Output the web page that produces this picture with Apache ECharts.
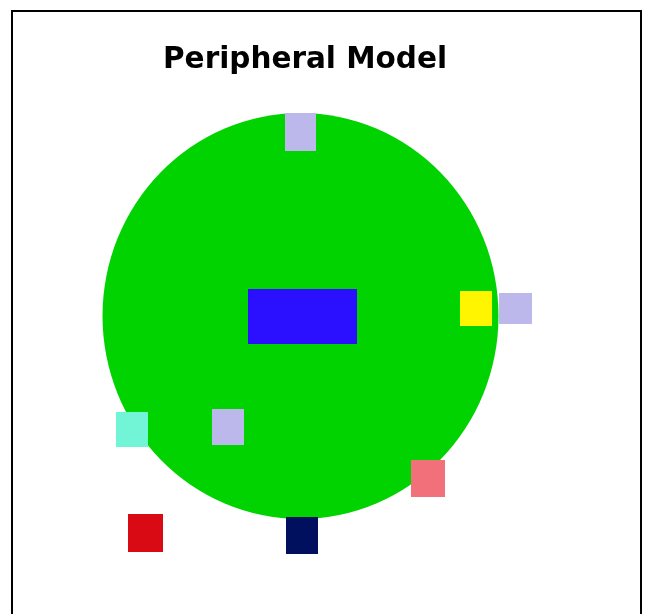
<!DOCTYPE html>
<html>
<head>
<meta charset="utf-8">
<script src="https://cdn.jsdelivr.net/npm/echarts@6/dist/echarts.min.js"></script>
<style>
html,body{margin:0;padding:0;background:#fff;}
#chart{width:650px;height:614px;}
</style>
</head>
<body>
<div id="chart"></div>
<script>
// Model units: circle centre at (0,0); x to the right, y upward.
var titleText = 'Peripheral Model';

// Central body (ellipse): cx, cy, rx, ry
var bodyValues = [[0, 0, 99, 101.5]];

// Components: names and extents [x0, x1, yTop, yBottom]
var compNames = ['top', 'core', 'rightInner', 'rightOuter', 'leftEdge', 'leftInner', 'bottomLeft', 'bottom', 'bottomRight'];
var compX0 = [-7.75, -26.25, 79.75, 99.25, -92.25, -44.25, -86.25, -7.25, 55.25];
var compX1 = [7.75, 28.25, 95.75, 115.75, -76.25, -28.25, -68.75, 8.75, 72.25];
var compY0 = [101.5, 13.5, 12.5, 11.5, -48, -46.5, -99, -100.5, -72];
var compY1 = [82.5, -14, -5, -4, -65.5, -64.5, -118, -119, -90.5];
var compColors = ['#bdb8ec', '#2b10ff', '#fff500', '#bdb8ec', '#72f5d6', '#bdb8ec', '#d90a14', '#00105e', '#f2707a'];

var compData = compNames.map(function (n, i) {
  return { name: n, value: [compX0[i], compX1[i], compY0[i], compY1[i]], itemStyle: { color: compColors[i] } };
});

var chart = echarts.init(document.getElementById('chart'));
chart.setOption({
  animation: false,
  backgroundColor: '#ffffff',
  title: {
    text: titleText,
    left: 158,
    top: 40,
    textStyle: { fontFamily: 'DejaVu Sans', fontWeight: 'bold', fontSize: 29.5, color: '#000' }
  },
  graphic: [{
    type: 'rect',
    shape: { x: 12, y: 11, width: 629, height: 620 },
    style: { fill: 'none', stroke: '#000', lineWidth: 2 },
    silent: true
  }],
  grid: { left: 0, right: 0, top: 0, bottom: 0, containLabel: false },
  xAxis: { type: 'value', min: -150.25, max: 174.75, show: false },
  yAxis: { type: 'value', min: -149, max: 158, show: false },
  series: [
    {
      type: 'custom',
      name: 'body',
      data: bodyValues,
      renderItem: function (params, api) {
        var c = api.coord([api.value(0), api.value(1)]);
        var s = api.size([api.value(2), api.value(3)]);
        return {
          type: 'circle',
          shape: { cx: c[0], cy: c[1], r: s[0] },
          scaleY: s[1] / s[0],
          originX: c[0],
          originY: c[1],
          style: { fill: '#00d300' }
        };
      }
    },
    {
      type: 'custom',
      name: 'components',
      data: compData,
      renderItem: function (params, api) {
        var p0 = api.coord([api.value(0), api.value(2)]);
        var p1 = api.coord([api.value(1), api.value(3)]);
        return {
          type: 'rect',
          shape: { x: p0[0], y: p0[1], width: p1[0] - p0[0], height: p1[1] - p0[1] },
          style: { fill: api.visual('color') }
        };
      }
    }
  ]
});
</script>
</body>
</html>
